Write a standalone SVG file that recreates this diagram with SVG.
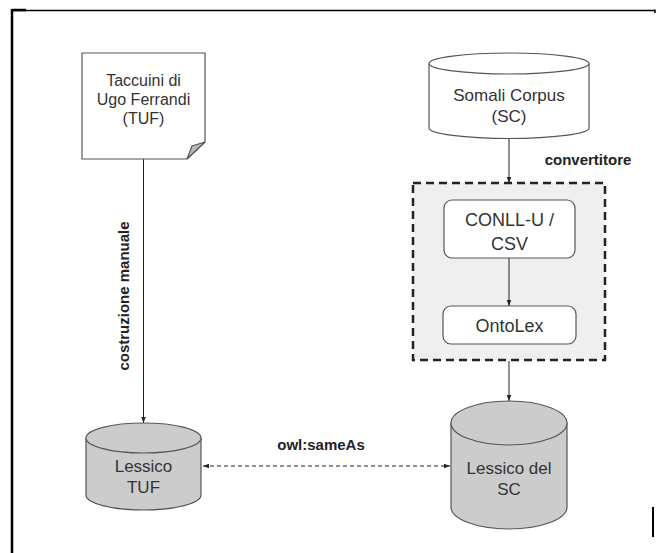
<svg xmlns="http://www.w3.org/2000/svg" width="657" height="553" viewBox="0 0 657 553">
<defs>
<style>
.lbl{font-family:"Liberation Sans",Arial,sans-serif;font-size:17px;fill:#333;text-anchor:middle}
.bold{font-family:"Liberation Sans",Arial,sans-serif;font-size:15px;font-weight:bold;fill:#222;text-anchor:middle}
.edge{stroke:#222;stroke-width:1;fill:none}
.shape{stroke:#555;stroke-width:1.2}
</style>
<marker id="arr" viewBox="0 0 8 8" refX="8" refY="4" markerWidth="6" markerHeight="6" orient="auto-start-reverse">
<path d="M0,1 L8,4 L0,7 z" fill="#222"/>
</marker>
</defs>
<rect width="657" height="553" fill="#fff"/>
<g id="frame">
<line x1="12" y1="10.5" x2="655" y2="10.5" stroke="#000" stroke-width="1.5"/>
<line x1="12" y1="10" x2="26" y2="10" stroke="#000" stroke-width="2.5"/>
<line x1="12" y1="9" x2="12" y2="553" stroke="#000" stroke-width="2.5"/>
<line x1="655" y1="9.5" x2="655" y2="13" stroke="#000" stroke-width="1.5"/>
<line x1="653" y1="507" x2="653" y2="537" stroke="#000" stroke-width="2"/>
</g>
<g id="convertitore-group">
<rect x="413" y="183" width="192" height="177" fill="#efefef" stroke="#222" stroke-width="2.5" stroke-dasharray="8,5"/>
<text class="bold" x="588" y="165">convertitore</text>
</g>
<g id="connectors">
<line class="edge" x1="143.5" y1="159" x2="143.5" y2="423" marker-end="url(#arr)"/>
<text class="bold" transform="translate(129,296) rotate(-90)">costruzione manuale</text>
<line class="edge" x1="509" y1="138" x2="509" y2="183" marker-end="url(#arr)"/>
<line class="edge" x1="509" y1="258" x2="509" y2="306" marker-end="url(#arr)"/>
<line class="edge" x1="509" y1="361" x2="509" y2="401" marker-end="url(#arr)"/>
<line class="edge" x1="203" y1="466" x2="450" y2="466" stroke-dasharray="4,3" marker-start="url(#arr)" marker-end="url(#arr)"/>
<text class="bold" x="321" y="450">owl:sameAs</text>
</g>
<g id="tuf-doc">
<path class="shape" d="M82,53 H205 V142 L187,159 H82 Z" fill="#fff"/>
<path class="shape" d="M205,142 L187,159 L192,146 Z" fill="#bbb"/>
<text class="lbl" x="143.5" y="86" style="font-size:16px">Taccuini di</text>
<text class="lbl" x="143.5" y="105" style="font-size:16px">Ugo Ferrandi</text>
<text class="lbl" x="143.5" y="124" style="font-size:16px">(TUF)</text>
</g>
<g id="somali-corpus">
<path class="shape" d="M429,63.5 V128 A80,10.5 0 0 0 589,128 V63.5" fill="#fff"/>
<ellipse class="shape" cx="509" cy="63.5" rx="80" ry="10.5" fill="#fff"/>
<text class="lbl" x="509" y="101">Somali Corpus</text>
<text class="lbl" x="509" y="122">(SC)</text>
</g>
<g id="conllu">
<rect class="shape" x="444" y="200" width="131" height="58" rx="8" fill="#fff"/>
<text class="lbl" x="509.5" y="226" style="font-size:18px">CONLL-U /</text>
<text class="lbl" x="509.5" y="250" style="font-size:18px">CSV</text>
</g>
<g id="ontolex">
<rect class="shape" x="443" y="306" width="133" height="38" rx="8" fill="#fff"/>
<text class="lbl" x="509.5" y="331.5" style="font-size:18px">OntoLex</text>
</g>
<g id="lessico-tuf">
<path class="shape" d="M86,438 V495 A57.5,15 0 0 0 201,495 V438" fill="#ccc"/>
<ellipse class="shape" cx="143.5" cy="438" rx="57.5" ry="15" fill="#ccc"/>
<text class="lbl" x="143.5" y="472">Lessico</text>
<text class="lbl" x="143.5" y="493">TUF</text>
</g>
<g id="lessico-sc">
<path class="shape" d="M451,423 V507 A58,22 0 0 0 567,507 V423" fill="#ccc"/>
<ellipse class="shape" cx="509" cy="423" rx="58" ry="22" fill="#ccc"/>
<text class="lbl" x="509" y="474">Lessico del</text>
<text class="lbl" x="509" y="495">SC</text>
</g>
</svg>
